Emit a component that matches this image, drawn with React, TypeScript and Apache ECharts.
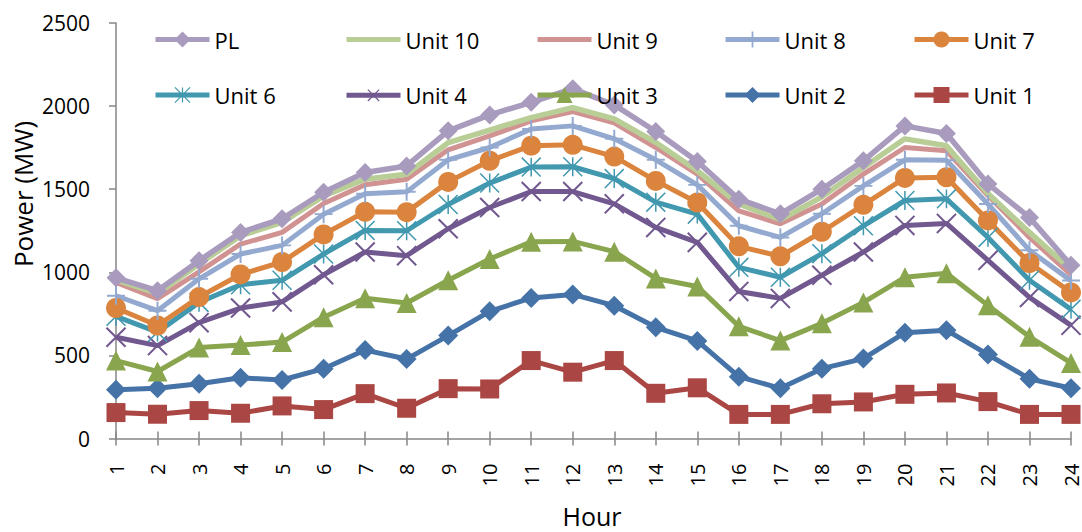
import React, { useEffect, useRef } from "react";
import * as echarts from "echarts";

const hours = ["1","2","3","4","5","6","7","8","9","10","11","12","13","14","15","16","17","18","19","20","21","22","23","24"];

const unit1 = [156, 146, 168, 152, 196, 174, 270, 182, 300, 298, 469, 399, 469, 272, 305, 145, 145, 209, 220, 266, 274, 222, 145, 145];
const unit2 = [294, 302, 330, 365, 352, 420, 532, 478, 619, 765, 846, 867, 799, 669, 587, 372, 302, 420, 481, 637, 652, 505, 359, 302];
const unit3 = [469, 403, 547, 562, 580, 730, 844, 815, 952, 1080, 1184, 1186, 1124, 963, 915, 675, 589, 693, 819, 970, 994, 801, 612, 455];
const unit4 = [609, 559, 697, 785, 822, 985, 1122, 1100, 1262, 1390, 1486, 1486, 1412, 1270, 1180, 885, 843, 982, 1122, 1282, 1294, 1072, 849, 681];
const unit6 = [735, 640, 819, 925, 952, 1110, 1252, 1250, 1408, 1537, 1633, 1635, 1564, 1422, 1350, 1030, 970, 1112, 1280, 1432, 1442, 1210, 952, 777];
const unit7 = [785, 680, 851, 987, 1062, 1228, 1364, 1362, 1544, 1671, 1762, 1767, 1696, 1550, 1420, 1156, 1096, 1244, 1406, 1568, 1572, 1312, 1056, 879];
const unit8 = [859, 769, 961, 1110, 1162, 1350, 1472, 1484, 1677, 1751, 1862, 1881, 1803, 1677, 1526, 1280, 1210, 1352, 1520, 1677, 1674, 1411, 1132, 950];
const unit9 = [939, 841, 1003, 1170, 1240, 1414, 1527, 1560, 1737, 1821, 1911, 1967, 1899, 1751, 1591, 1370, 1292, 1411, 1591, 1751, 1731, 1462, 1210, 986];
const unit10 = [955, 873, 1050, 1220, 1300, 1460, 1560, 1590, 1780, 1856, 1931, 1991, 1923, 1781, 1611, 1411, 1316, 1454, 1631, 1803, 1761, 1474, 1240, 1016];
const pl = [967, 889, 1070, 1240, 1322, 1482, 1600, 1640, 1851, 1947, 2023, 2105, 2007, 1847, 1667, 1440, 1352, 1500, 1671, 1881, 1835, 1532, 1330, 1042];

const yTicks = { min: 0, max: 2500, interval: 500 };

const FONT = "Open Sans";
const PLUS_THIN = "path://M9.25,0H10.75V9.25H20V10.75H10.75V20H9.25V10.75H0V9.25H9.25Z";
const PLUS = "path://M8.9,0H11.1V8.9H20V11.1H11.1V20H8.9V11.1H0V8.9H8.9Z";
const STAR =
  "path://M9.2,0H10.8V20H9.2Z" +
  "M0.566,-0.566L20.566,19.434L19.434,20.566L-0.566,0.566Z" +
  "M19.434,-0.566L20.566,0.566L0.566,20.566L-0.566,19.434Z";

type S = { name: string; data: number[]; color: string; symbol: string; size: number; rotate?: number; width: number };

const seriesDefs: S[] = [
  { name: "Unit 1", data: unit1, color: "#AA4643", symbol: "rect", size: 19, width: 5 },
  { name: "Unit 2", data: unit2, color: "#4572A7", symbol: "diamond", size: 20, width: 5 },
  { name: "Unit 3", data: unit3, color: "#89A54E", symbol: "triangle", size: 20, width: 5 },
  { name: "Unit 4", data: unit4, color: "#71588F", symbol: PLUS_THIN, size: 27, rotate: 45, width: 5 },
  { name: "Unit 6", data: unit6, color: "#4198AF", symbol: STAR, size: 20, width: 5 },
  { name: "Unit 7", data: unit7, color: "#DB843D", symbol: "circle", size: 20, width: 5 },
  { name: "Unit 8", data: unit8, color: "#93A9CF", symbol: PLUS, size: 18, width: 5 },
  { name: "Unit 9", data: unit9, color: "#D19392", symbol: "none", size: 0, width: 5 },
  { name: "Unit 10", data: unit10, color: "#B9CD96", symbol: "none", size: 0, width: 5.5 },
  { name: "PL", data: pl, color: "#A99BBD", symbol: "diamond", size: 19, width: 5.5 },
];

const legendOrder = ["PL", "Unit 10", "Unit 9", "Unit 8", "Unit 7", "Unit 6", "Unit 4", "Unit 3", "Unit 2", "Unit 1"];
const legendCols = [153, 344, 535, 723, 912];
const legendRows = [42.5, 98];
const noMarker = ["Unit 9", "Unit 10"];

export default function App() {
  const ref = useRef<HTMLDivElement>(null);
  useEffect(() => {
    document.body.style.margin = "0";
    const chart = echarts.init(ref.current!, null, { renderer: "svg" });
    const legends = legendOrder.map((name, i) => ({
      data: [name],
      left: legendCols[i % 5],
      top: legendRows[Math.floor(i / 5)] - 14,
      padding: 0,
      itemWidth: 54,
      itemHeight: 20,
      itemGap: 0,
      lineStyle: { width: 5 },
      ...(noMarker.includes(name) ? { itemStyle: { opacity: 0 } } : {}),
      textStyle: { fontSize: 22, fontFamily: FONT, color: "#000" },
    }));
    chart.setOption({
      animation: false,
      backgroundColor: "#fff",
      textStyle: { fontFamily: FONT },
      grid: { left: 116, right: 11, top: 23, bottom: 93.5 },
      legend: legends,
      xAxis: [
        {
          type: "category",
          data: hours,
          boundaryGap: false,
          axisLine: { lineStyle: { color: "#868686", width: 1.5 } },
          axisTick: { show: true, interval: 0, length: 7, lineStyle: { color: "#868686", width: 1.5 } },
          axisLabel: { interval: 0, rotate: 90, fontSize: 20, color: "#000", margin: 25, fontFamily: FONT },
          splitLine: { show: false },
        },
        {
          type: "category",
          data: hours,
          boundaryGap: false,
          position: "bottom",
          offset: 0,
          axisLine: { show: false },
          axisTick: { show: true, inside: true, interval: 0, length: 7, lineStyle: { color: "#868686", width: 1.5 } },
          axisLabel: { show: false },
          splitLine: { show: false },
        },
      ],
      yAxis: {
        type: "value",
        min: yTicks.min,
        max: yTicks.max,
        interval: yTicks.interval,
        axisLine: { show: true, lineStyle: { color: "#868686", width: 1.5 } },
        axisTick: { show: true, length: 7, lineStyle: { color: "#868686", width: 1.5 } },
        axisLabel: { fontSize: 21, color: "#000", margin: 26, fontFamily: FONT, formatter: (v: number) => String(v) },
        splitLine: { show: false },
      },
      graphic: [
        {
          type: "text",
          x: 23,
          y: 194,
          rotation: Math.PI / 2,
          style: { text: "Power (MW)", fontSize: 26, fontFamily: FONT, fill: "#000", align: "center", verticalAlign: "middle" },
        },
        {
          type: "text",
          x: 592,
          y: 516,
          style: { text: "Hour", fontSize: 25, fontFamily: FONT, fill: "#000", align: "center", verticalAlign: "middle" },
        },
      ],
      series: seriesDefs.map((s) => ({
        type: "line",
        name: s.name,
        data: s.data,
        xAxisIndex: 0,
        clip: false,
        symbol: s.symbol,
        showSymbol: s.symbol !== "none",
        symbolSize: s.size,
        symbolRotate: s.rotate || 0,
        color: s.color,
        itemStyle: { color: s.color },
        lineStyle: { color: s.color, width: s.width },
        emphasis: { disabled: true },
      })),
    });
    return () => chart.dispose();
  }, []);
  return <div ref={ref} style={{ width: 1082, height: 532 }} />;
}
